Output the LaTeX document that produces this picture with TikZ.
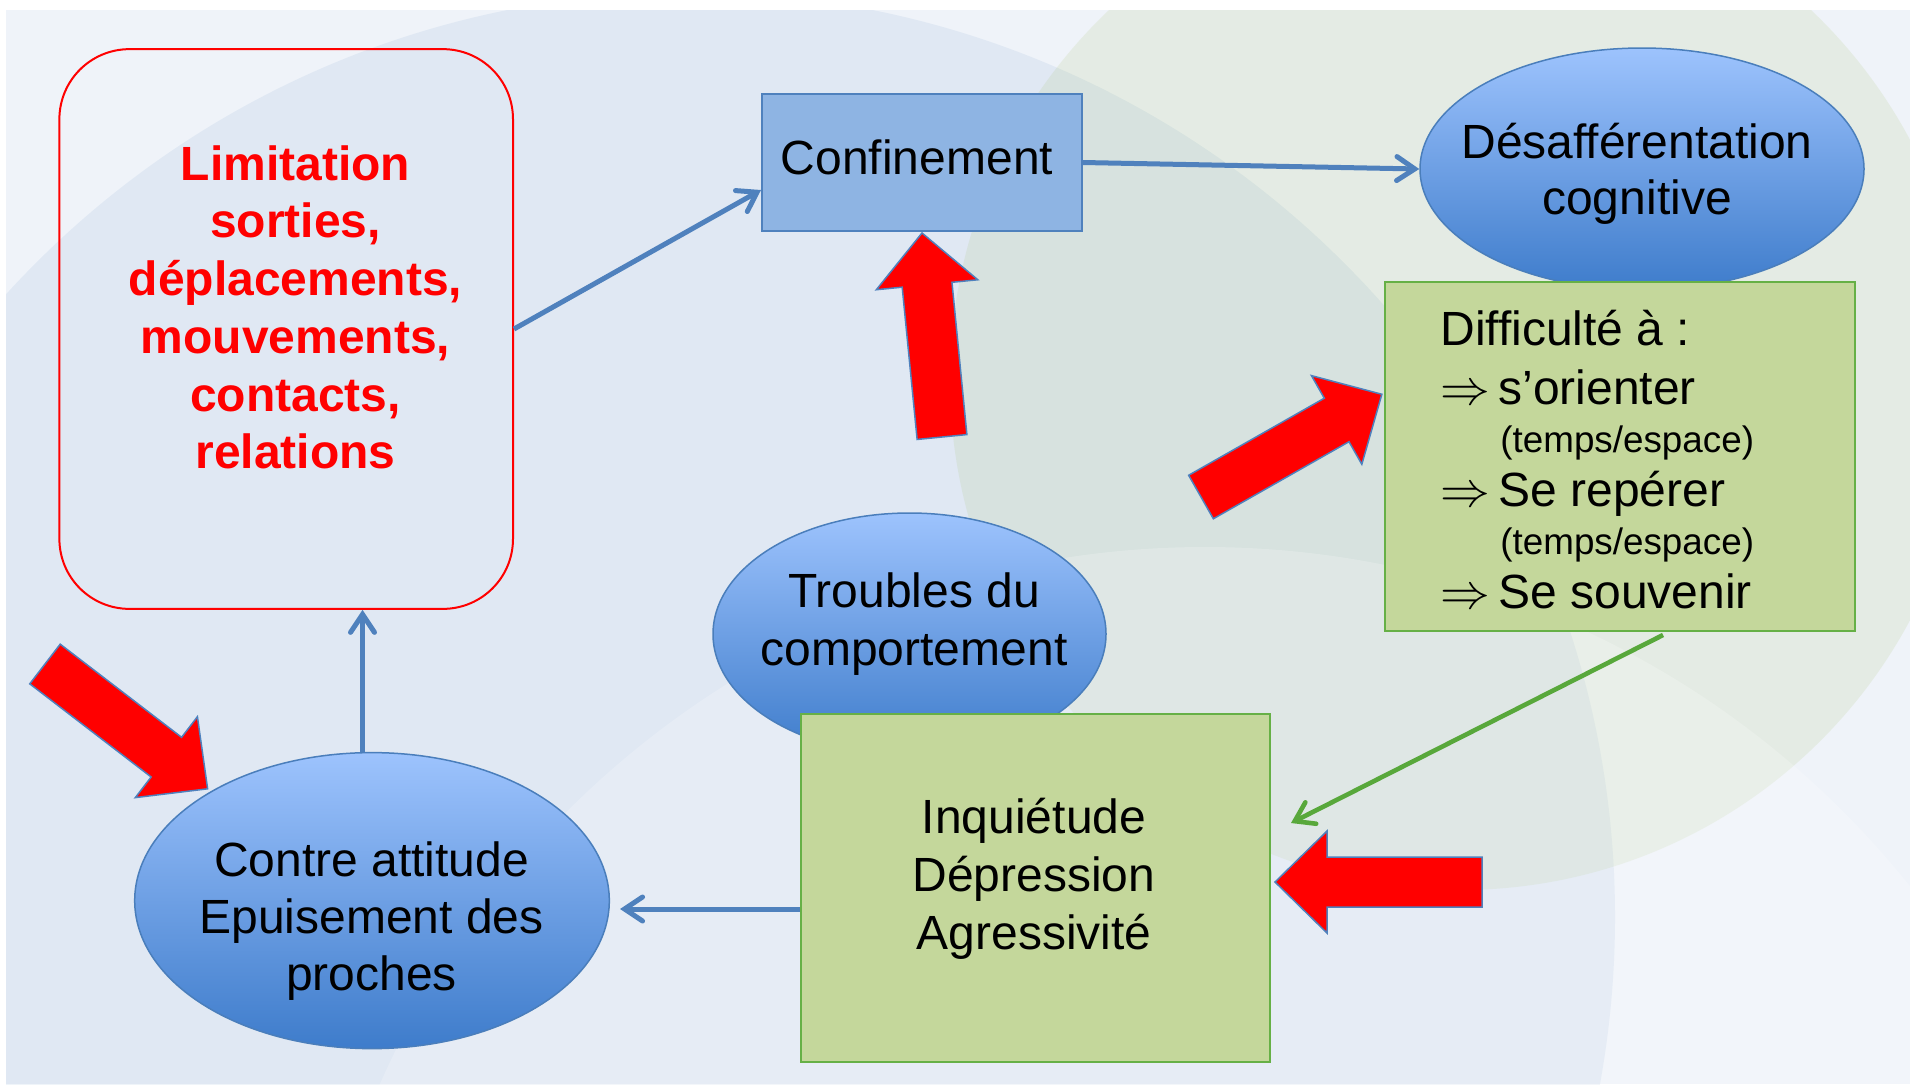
\documentclass[tikz,border=0pt]{standalone}
\usepackage{fontspec}
\setmainfont{Liberation Sans}
\usetikzlibrary{shapes.geometric,arrows.meta,calc}
\definecolor{bgbase}{HTML}{EFF3F9}
\definecolor{accblue}{HTML}{4F81BD}
\definecolor{confill}{HTML}{8EB4E3}
\definecolor{boxgreen}{HTML}{C4D79B}
\definecolor{boxgreenline}{HTML}{66B046}
\definecolor{arrgreen}{HTML}{58A83B}
\definecolor{elltop}{HTML}{9DC3FD}
\definecolor{ellbot}{HTML}{3E7CCB}
\definecolor{ellline}{HTML}{4A7EBB}
\definecolor{themegreen}{HTML}{9BBB59}
\tikzset{
  big/.style={font=\fontsize{24}{28.75}\selectfont, inner sep=0pt, anchor=base},
  bigred/.style={font=\fontsize{24}{28.75}\selectfont\bfseries, text=red, inner sep=0pt, anchor=base},
  bigleft/.style={font=\fontsize{24}{28.75}\selectfont, inner sep=0pt, anchor=base west},
  smallleft/.style={font=\fontsize{18.4}{22}\selectfont, inner sep=0pt, anchor=base west},
  ellnode/.style={ellipse, draw=ellline, line width=0.75pt, top color=elltop, bottom color=ellbot, inner sep=0pt},
  greenbox/.style={rectangle, draw=boxgreenline, line width=1pt, fill=boxgreen, inner sep=0pt},
  conn/.style={draw=accblue, line width=2.5pt, -{Straight Barb[length=9pt,width=12pt,line cap=round]}},
  gconn/.style={draw=arrgreen, line width=2.3pt, -{Straight Barb[length=9pt,width=12pt,line cap=round]}},
  redarr/.style={fill=red, draw=accblue, line width=0.75pt, line join=miter},
  blockarr/.pic={\path[redarr] (0,-25) -- (#1-52,-25) -- (#1-52,-51) -- (#1,0) -- (#1-52,51) -- (#1-52,25) -- (0,25) -- cycle;}
}
\begin{document}
\begin{tikzpicture}[x=0.5pt,y=-0.5pt]
\useasboundingbox (0,0) rectangle (1910,1084);
% background
\fill[bgbase] (6,10) rectangle (1910,1084);
\begin{scope}
  \clip (6,10) rectangle (1910,1084);
  \fill[accblue, fill opacity=0.09] (690,917) circle (925);
  \fill[themegreen, fill opacity=0.13] (1460,380) circle (510);
  \fill[white, fill opacity=0.2] (1205,1449) circle (902);
\end{scope}

% shapes
\node[draw=red, line width=1pt, rounded corners=35pt, minimum width=226.8pt, minimum height=279.85pt, inner sep=0pt] (red) at (286.2,329) {};
\node[rectangle, draw=accblue, line width=1pt, fill=confill, minimum width=160pt, minimum height=68.5pt, inner sep=0pt] (conf) at (922,162.5) {};
\node[ellnode, minimum width=222pt, minimum height=121pt] (des) at (1642,169) {};
\node[greenbox, minimum width=235pt, minimum height=174.5pt] (diff) at (1620,456.5) {};
\node[ellnode, minimum width=196.5pt, minimum height=121pt] (trb) at (909.5,634) {};
\node[greenbox, minimum width=234.5pt, minimum height=174pt] (inq) at (1035.5,888) {};
\node[ellnode, minimum width=237.3pt, minimum height=148pt] (contre) at (372,900.6) {};

% texts
\node[bigred] (r1) at (295.5,180.4) {Limitation};
\node[bigred] (r2) at (295.5,237.8) {sorties,};
\node[bigred] (r3) at (295.5,295.5) {déplacements,};
\node[bigred] (r4) at (295.5,353.3) {mouvements,};
\node[bigred] (r5) at (295.5,411.3) {contacts,};
\node[bigred] (r6) at (295.5,468.4) {relations};

\node[big] (conft) at (917,174.6) {Confinement};

\node[big] (des1) at (1637,158.3) {Désafférentation};
\node[big] (des2) at (1637,214.3) {cognitive};

\node[bigleft] (d1) at (1440,345.7) {Difficulté à :};
\node[bigleft] (d2) at (1440,404.4) {\makebox[29pt][l]{$\Rightarrow$}s’orienter};
\node[smallleft] (d3) at (1500,452) {(temps/espace)};
\node[bigleft] (d4) at (1440,506) {\makebox[29pt][l]{$\Rightarrow$}Se repérer};
\node[smallleft] (d5) at (1500,554) {(temps/espace)};
\node[bigleft] (d6) at (1440,608) {\makebox[29pt][l]{$\Rightarrow$}Se souvenir};

\node[big] (t1) at (914,607.7) {Troubles du};
\node[big] (t2) at (914,665) {comportement};

\node[big] (i1) at (1034,833) {Inquiétude};
\node[big] (i2) at (1034,891) {Dépression};
\node[big] (i3) at (1034,949) {Agressivité};

\node[big] (c1) at (371.5,876) {Contre attitude};
\node[big] (c2) at (371.5,933) {Epuisement des};
\node[big] (c3t) at (371.5,990.7) {proches};

% connectors
\draw[conn] (red.east) -- ([yshift=-13.75pt]conf.west);
\draw[conn] (conf.east) -- (des.west);
\coordinate (c3) at ([xshift=-4.75pt]contre.north);
\draw[conn] (c3) -- (c3 |- red.south);
\coordinate (c4) at ([yshift=-10.5pt]inq.west);
\draw[conn, shorten >=5pt] (c4) -- (c4 -| contre.east);
\coordinate (gs) at ([xshift=21.5pt,yshift=-1.5pt]diff.south);
\coordinate (ge) at ([xshift=10pt,yshift=32.5pt]inq.east);
\draw[gconn] (gs) -- (ge);

% red block arrows
\pic[rotate=95.6] at (942,437) {blockarr=205};
\pic[rotate=29.6] at (1201,497) {blockarr=208};
\pic[rotate=-37.5] at (45,664) {blockarr=205};
\pic[rotate=180] at (1482,882) {blockarr=207};
\end{tikzpicture}
\end{document}
